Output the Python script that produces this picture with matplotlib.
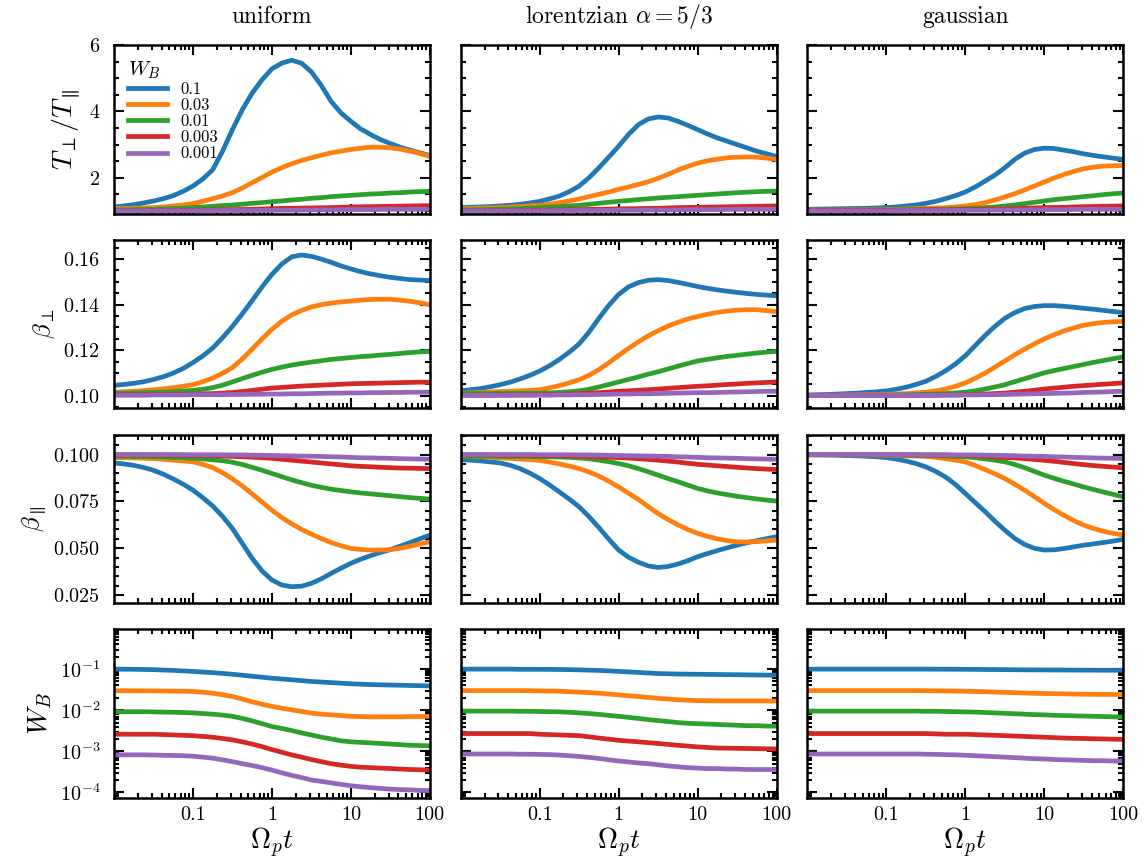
import matplotlib
matplotlib.use("Agg")
import matplotlib.pyplot as plt
from matplotlib.ticker import MultipleLocator, LogLocator, NullFormatter

plt.rcParams['font.family'] = 'serif'
plt.rcParams['font.serif'] = ['cmr10', 'DejaVu Serif']
plt.rcParams['mathtext.fontset'] = 'cm'
plt.rcParams['axes.formatter.use_mathtext'] = True
plt.rcParams['axes.unicode_minus'] = False

# sample times (Omega_p t), read at eighth decades
t = [0.01, 0.0133, 0.0178, 0.0237, 0.0316, 0.0422, 0.0562, 0.075, 0.1, 0.133, 0.178,
     0.237, 0.316, 0.422, 0.562, 0.75, 1, 1.33, 1.78, 2.37, 3.16, 4.22, 5.62, 7.5, 10,
     13.3, 17.8, 23.7, 31.6, 42.2, 56.2, 75, 100]

wb_labels = ['0.1', '0.03', '0.01', '0.003', '0.001']
colors = ['#1f77b4', '#ff7f0e', '#2ca02c', '#d62728', '#9467bd']
titles = ['uniform', r'lorentzian $\alpha=5/3$', 'gaussian']

# T_perp / T_par
tratio_uniform = [
    [1.12, 1.15, 1.19, 1.24, 1.3, 1.37, 1.46, 1.59, 1.75, 1.96, 2.24, 2.8, 3.45, 4.05, 4.55, 4.95, 5.28, 5.45, 5.54, 5.45, 5.19, 4.78, 4.3, 3.95, 3.7, 3.47, 3.3, 3.15, 3.03, 2.92, 2.83, 2.75, 2.67],
    [1.07, 1.075, 1.08, 1.09, 1.1, 1.12, 1.15, 1.18, 1.22, 1.29, 1.37, 1.45, 1.55, 1.69, 1.85, 2.01, 2.17, 2.3, 2.42, 2.52, 2.6, 2.68, 2.75, 2.8, 2.85, 2.89, 2.92, 2.92, 2.9, 2.86, 2.8, 2.73, 2.64],
    [1.03, 1.035, 1.04, 1.045, 1.05, 1.06, 1.07, 1.085, 1.1, 1.12, 1.14, 1.16, 1.18, 1.2, 1.23, 1.25, 1.28, 1.3, 1.33, 1.35, 1.38, 1.4, 1.43, 1.45, 1.47, 1.49, 1.51, 1.52, 1.54, 1.55, 1.57, 1.58, 1.59],
    [1.0, 1.0, 1.0, 1.005, 1.01, 1.01, 1.01, 1.015, 1.02, 1.025, 1.03, 1.035, 1.04, 1.045, 1.05, 1.06, 1.07, 1.075, 1.08, 1.085, 1.09, 1.095, 1.1, 1.11, 1.12, 1.125, 1.13, 1.135, 1.14, 1.145, 1.15, 1.155, 1.16],
    [1.0, 1.0, 1.0, 1.0, 1.0, 1.0, 1.0, 1.0, 1.0, 1.005, 1.01, 1.01, 1.01, 1.01, 1.01, 1.015, 1.02, 1.02, 1.02, 1.025, 1.03, 1.03, 1.03, 1.035, 1.04, 1.04, 1.04, 1.045, 1.05, 1.05, 1.05, 1.05, 1.05],
]
tratio_lorentz = [
    [1.1, 1.11, 1.12, 1.13, 1.15, 1.17, 1.2, 1.24, 1.29, 1.36, 1.45, 1.58, 1.75, 2.0, 2.3, 2.62, 2.95, 3.3, 3.6, 3.77, 3.83, 3.8, 3.7, 3.58, 3.45, 3.32, 3.2, 3.1, 3.0, 2.9, 2.8, 2.72, 2.64],
    [1.07, 1.075, 1.08, 1.09, 1.1, 1.115, 1.13, 1.15, 1.17, 1.2, 1.25, 1.3, 1.36, 1.43, 1.5, 1.57, 1.65, 1.72, 1.8, 1.88, 1.98, 2.1, 2.23, 2.34, 2.44, 2.51, 2.56, 2.6, 2.62, 2.63, 2.62, 2.59, 2.55],
    [1.03, 1.035, 1.04, 1.045, 1.05, 1.06, 1.07, 1.085, 1.1, 1.115, 1.13, 1.15, 1.17, 1.2, 1.23, 1.26, 1.29, 1.315, 1.34, 1.365, 1.39, 1.41, 1.43, 1.45, 1.47, 1.49, 1.51, 1.53, 1.55, 1.565, 1.58, 1.59, 1.6],
    [1.0, 1.0, 1.0, 1.005, 1.01, 1.01, 1.01, 1.015, 1.02, 1.025, 1.03, 1.035, 1.04, 1.045, 1.05, 1.055, 1.06, 1.065, 1.07, 1.075, 1.08, 1.09, 1.1, 1.105, 1.11, 1.115, 1.12, 1.125, 1.13, 1.135, 1.14, 1.145, 1.15],
    [1.0, 1.0, 1.0, 1.0, 1.0, 1.0, 1.0, 1.0, 1.0, 1.005, 1.01, 1.01, 1.01, 1.01, 1.01, 1.015, 1.02, 1.02, 1.02, 1.025, 1.03, 1.03, 1.03, 1.035, 1.04, 1.04, 1.04, 1.045, 1.05, 1.05, 1.05, 1.05, 1.05],
]
tratio_gauss = [
    [1.05, 1.055, 1.06, 1.065, 1.07, 1.075, 1.08, 1.09, 1.1, 1.12, 1.15, 1.18, 1.23, 1.29, 1.37, 1.46, 1.57, 1.72, 1.9, 2.08, 2.3, 2.55, 2.74, 2.85, 2.89, 2.88, 2.83, 2.78, 2.72, 2.67, 2.63, 2.59, 2.55],
    [1.03, 1.03, 1.03, 1.03, 1.03, 1.035, 1.04, 1.04, 1.04, 1.05, 1.06, 1.07, 1.08, 1.09, 1.1, 1.12, 1.15, 1.19, 1.25, 1.33, 1.42, 1.52, 1.63, 1.75, 1.87, 1.99, 2.1, 2.19, 2.27, 2.32, 2.35, 2.36, 2.37],
    [1.03, 1.03, 1.03, 1.03, 1.03, 1.03, 1.03, 1.03, 1.03, 1.035, 1.04, 1.04, 1.04, 1.045, 1.05, 1.06, 1.07, 1.085, 1.1, 1.12, 1.15, 1.18, 1.22, 1.26, 1.3, 1.34, 1.37, 1.4, 1.43, 1.46, 1.49, 1.52, 1.54],
    [1.02, 1.02, 1.02, 1.02, 1.02, 1.02, 1.02, 1.02, 1.02, 1.02, 1.02, 1.025, 1.03, 1.03, 1.03, 1.035, 1.04, 1.045, 1.05, 1.055, 1.06, 1.07, 1.08, 1.09, 1.1, 1.105, 1.11, 1.12, 1.13, 1.135, 1.14, 1.145, 1.15],
    [1.0, 1.0, 1.0, 1.0, 1.0, 1.0, 1.0, 1.0, 1.0, 1.005, 1.01, 1.01, 1.01, 1.01, 1.01, 1.015, 1.02, 1.02, 1.02, 1.025, 1.03, 1.03, 1.03, 1.035, 1.04, 1.04, 1.04, 1.045, 1.05, 1.05, 1.05, 1.05, 1.05],
]

# beta_perp
bperp_uniform = [
    [0.1046, 0.105, 0.1055, 0.1062, 0.1072, 0.1084, 0.11, 0.112, 0.1146, 0.1175, 0.121, 0.1255, 0.1305, 0.136, 0.1418, 0.1478, 0.1533, 0.1578, 0.161, 0.1618, 0.1612, 0.16, 0.1586, 0.157, 0.1557, 0.1545, 0.1535, 0.1527, 0.152, 0.1515, 0.151, 0.1508, 0.1506],
    [0.1016, 0.1018, 0.102, 0.1023, 0.1027, 0.1031, 0.1036, 0.1042, 0.1049, 0.1062, 0.1078, 0.1099, 0.1124, 0.1162, 0.1205, 0.125, 0.1292, 0.1327, 0.1355, 0.1375, 0.139, 0.14, 0.1407, 0.1412, 0.1416, 0.142, 0.1423, 0.1424, 0.1424, 0.142, 0.1415, 0.1408, 0.14],
    [0.1012, 0.1012, 0.1013, 0.1014, 0.1015, 0.1016, 0.1018, 0.1021, 0.1024, 0.1029, 0.1036, 0.1047, 0.1061, 0.1076, 0.109, 0.1104, 0.1116, 0.1126, 0.1135, 0.1142, 0.1148, 0.1154, 0.116, 0.1164, 0.1168, 0.1172, 0.1175, 0.1179, 0.1182, 0.1186, 0.119, 0.1193, 0.1195],
    [0.1005, 0.1005, 0.1005, 0.1005, 0.1006, 0.1006, 0.1007, 0.1007, 0.1008, 0.1009, 0.101, 0.1012, 0.1015, 0.1019, 0.1024, 0.1029, 0.1034, 0.1037, 0.104, 0.1043, 0.1045, 0.1047, 0.1049, 0.1051, 0.1053, 0.1054, 0.1055, 0.1056, 0.1057, 0.1058, 0.1059, 0.106, 0.106],
    [0.1003, 0.1003, 0.1003, 0.1003, 0.1004, 0.1004, 0.1004, 0.1004, 0.1005, 0.1005, 0.1005, 0.1005, 0.1006, 0.1006, 0.1007, 0.1007, 0.1008, 0.1008, 0.1009, 0.1009, 0.101, 0.1011, 0.1012, 0.1012, 0.1013, 0.1013, 0.1014, 0.1014, 0.1015, 0.1015, 0.1016, 0.1016, 0.1016],
]
bperp_lorentz = [
    [0.1022, 0.1027, 0.1032, 0.104, 0.1049, 0.106, 0.1074, 0.109, 0.1109, 0.1132, 0.116, 0.1192, 0.1228, 0.128, 0.134, 0.1397, 0.1445, 0.1478, 0.1497, 0.1507, 0.151, 0.1506, 0.1498, 0.1489, 0.148, 0.1472, 0.1465, 0.1459, 0.1454, 0.1449, 0.1445, 0.1442, 0.1439],
    [0.1012, 0.1013, 0.1015, 0.1017, 0.1019, 0.102, 0.1022, 0.1024, 0.1027, 0.1035, 0.1045, 0.1057, 0.1071, 0.109, 0.1115, 0.1145, 0.1177, 0.1208, 0.1237, 0.1263, 0.1286, 0.1306, 0.1323, 0.1337, 0.1348, 0.1358, 0.1366, 0.1372, 0.1376, 0.1378, 0.1378, 0.1374, 0.1369],
    [0.101, 0.101, 0.101, 0.101, 0.1011, 0.1011, 0.1011, 0.1011, 0.1012, 0.1013, 0.1015, 0.1018, 0.1022, 0.1029, 0.1039, 0.105, 0.1061, 0.1072, 0.1083, 0.1095, 0.1106, 0.1118, 0.113, 0.1142, 0.1153, 0.116, 0.1167, 0.1173, 0.1178, 0.1183, 0.1188, 0.1192, 0.1195],
    [0.1003, 0.1003, 0.1003, 0.1003, 0.1004, 0.1004, 0.1004, 0.1004, 0.1005, 0.1006, 0.1007, 0.1008, 0.101, 0.1012, 0.1014, 0.1017, 0.102, 0.1022, 0.1025, 0.1027, 0.103, 0.1033, 0.1036, 0.1039, 0.1042, 0.1044, 0.1047, 0.105, 0.1052, 0.1055, 0.1057, 0.1059, 0.1061],
    [0.1002, 0.1002, 0.1002, 0.1002, 0.1002, 0.1002, 0.1003, 0.1003, 0.1003, 0.1003, 0.1004, 0.1004, 0.1005, 0.1005, 0.1006, 0.1007, 0.1008, 0.1008, 0.1009, 0.1009, 0.101, 0.1011, 0.1012, 0.1013, 0.1014, 0.1014, 0.1015, 0.1016, 0.1017, 0.1018, 0.1019, 0.102, 0.102],
]
bperp_gauss = [
    [0.1004, 0.1005, 0.1006, 0.1008, 0.101, 0.1012, 0.1015, 0.1018, 0.1022, 0.1029, 0.1038, 0.105, 0.1064, 0.1085, 0.111, 0.114, 0.1176, 0.122, 0.1265, 0.1305, 0.134, 0.1365, 0.1383, 0.1392, 0.1396, 0.1396, 0.1393, 0.1389, 0.1384, 0.138, 0.1375, 0.137, 0.1365],
    [0.1002, 0.1002, 0.1003, 0.1003, 0.1004, 0.1004, 0.1005, 0.1005, 0.1006, 0.1008, 0.101, 0.1013, 0.1016, 0.1022, 0.103, 0.1042, 0.1057, 0.1077, 0.11, 0.1126, 0.1153, 0.118, 0.1205, 0.1228, 0.125, 0.1268, 0.1285, 0.1298, 0.131, 0.1317, 0.1322, 0.1325, 0.1327],
    [0.1002, 0.1002, 0.1002, 0.1002, 0.1002, 0.1002, 0.1003, 0.1003, 0.1003, 0.1004, 0.1005, 0.1006, 0.1007, 0.1008, 0.101, 0.1013, 0.1016, 0.1022, 0.103, 0.1039, 0.1049, 0.1062, 0.1075, 0.1088, 0.1101, 0.1111, 0.112, 0.1129, 0.1138, 0.1147, 0.1155, 0.1163, 0.1171],
    [0.1001, 0.1001, 0.1001, 0.1001, 0.1001, 0.1001, 0.1002, 0.1002, 0.1002, 0.1002, 0.1002, 0.1002, 0.1003, 0.1003, 0.1004, 0.1004, 0.1005, 0.1006, 0.1008, 0.101, 0.1012, 0.1016, 0.102, 0.1025, 0.103, 0.1034, 0.1038, 0.1042, 0.1045, 0.1048, 0.1051, 0.1054, 0.1057],
    [0.1001, 0.1001, 0.1001, 0.1001, 0.1001, 0.1001, 0.1001, 0.1001, 0.1002, 0.1002, 0.1002, 0.1002, 0.1002, 0.1002, 0.1003, 0.1003, 0.1004, 0.1004, 0.1005, 0.1005, 0.1006, 0.1007, 0.1008, 0.1009, 0.101, 0.1011, 0.1012, 0.1013, 0.1015, 0.1016, 0.1017, 0.1019, 0.102],
]

# beta_par
bpar_uniform = [
    [0.0955, 0.095, 0.0942, 0.0931, 0.0916, 0.0895, 0.087, 0.0842, 0.081, 0.077, 0.0725, 0.067, 0.0605, 0.0525, 0.0445, 0.0378, 0.033, 0.0303, 0.0294, 0.0297, 0.0312, 0.0336, 0.0365, 0.0393, 0.0419, 0.0441, 0.046, 0.0477, 0.0492, 0.0511, 0.053, 0.055, 0.057],
    [0.0984, 0.0983, 0.0982, 0.098, 0.0978, 0.0975, 0.097, 0.0966, 0.0961, 0.0948, 0.093, 0.0903, 0.087, 0.0832, 0.079, 0.0746, 0.0703, 0.0664, 0.063, 0.06, 0.0575, 0.0551, 0.053, 0.0513, 0.0499, 0.0493, 0.049, 0.049, 0.0492, 0.0499, 0.051, 0.0522, 0.0534],
    [0.0991, 0.0991, 0.099, 0.099, 0.0989, 0.0987, 0.0985, 0.0983, 0.098, 0.0977, 0.0972, 0.0967, 0.0959, 0.0947, 0.0932, 0.0916, 0.0899, 0.0882, 0.0865, 0.085, 0.0836, 0.0825, 0.0815, 0.0808, 0.0801, 0.0795, 0.079, 0.0785, 0.078, 0.0775, 0.077, 0.0766, 0.0762],
    [0.0998, 0.0998, 0.0998, 0.0998, 0.0997, 0.0997, 0.0996, 0.0996, 0.0995, 0.0994, 0.0993, 0.0992, 0.099, 0.0988, 0.0986, 0.0983, 0.098, 0.0975, 0.097, 0.0965, 0.096, 0.0955, 0.095, 0.0945, 0.094, 0.0937, 0.0935, 0.0932, 0.093, 0.0928, 0.0927, 0.0926, 0.0925],
    [0.1, 0.1, 0.1, 0.1, 0.1, 0.1, 0.1, 0.1, 0.0999, 0.0999, 0.0999, 0.0999, 0.0998, 0.0998, 0.0997, 0.0996, 0.0995, 0.0994, 0.0993, 0.0992, 0.0991, 0.099, 0.0988, 0.0987, 0.0985, 0.0983, 0.0982, 0.0981, 0.098, 0.0978, 0.0977, 0.0976, 0.0975],
]
bpar_lorentz = [
    [0.0973, 0.097, 0.0966, 0.0961, 0.0955, 0.0943, 0.0925, 0.0901, 0.0872, 0.0838, 0.08, 0.0762, 0.0721, 0.0668, 0.061, 0.0548, 0.049, 0.0452, 0.0425, 0.0405, 0.0397, 0.0402, 0.0415, 0.0433, 0.0454, 0.0471, 0.0487, 0.0502, 0.0516, 0.0529, 0.054, 0.0551, 0.0561],
    [0.0991, 0.099, 0.0988, 0.0985, 0.0982, 0.0979, 0.0976, 0.0973, 0.0969, 0.096, 0.095, 0.0938, 0.0925, 0.0907, 0.0885, 0.0858, 0.0827, 0.0794, 0.076, 0.0722, 0.0685, 0.0653, 0.0625, 0.06, 0.0579, 0.0563, 0.055, 0.054, 0.0534, 0.0533, 0.0535, 0.0539, 0.0543],
    [0.0991, 0.0991, 0.0991, 0.0991, 0.099, 0.099, 0.099, 0.099, 0.0989, 0.0988, 0.0987, 0.0985, 0.0982, 0.0977, 0.097, 0.0962, 0.0952, 0.094, 0.0925, 0.0908, 0.089, 0.0872, 0.0855, 0.0837, 0.0819, 0.0806, 0.0795, 0.0786, 0.0777, 0.077, 0.0763, 0.0757, 0.0751],
    [0.0998, 0.0998, 0.0998, 0.0998, 0.0997, 0.0997, 0.0996, 0.0996, 0.0995, 0.0994, 0.0993, 0.0992, 0.099, 0.0989, 0.0987, 0.0986, 0.0984, 0.0981, 0.0978, 0.0974, 0.097, 0.0965, 0.096, 0.0954, 0.0948, 0.0944, 0.094, 0.0936, 0.0932, 0.0928, 0.0925, 0.0922, 0.092],
    [0.1, 0.1, 0.1, 0.1, 0.1, 0.1, 0.1, 0.1, 0.0999, 0.0999, 0.0999, 0.0999, 0.0998, 0.0998, 0.0997, 0.0996, 0.0995, 0.0994, 0.0993, 0.0992, 0.0991, 0.099, 0.0988, 0.0987, 0.0985, 0.0983, 0.0982, 0.0981, 0.098, 0.0978, 0.0977, 0.0976, 0.0975],
]
bpar_gauss = [
    [0.0999, 0.0999, 0.0998, 0.0997, 0.0995, 0.0993, 0.0991, 0.0988, 0.0984, 0.0976, 0.0965, 0.0952, 0.0934, 0.091, 0.088, 0.084, 0.0792, 0.0744, 0.0695, 0.0644, 0.0596, 0.0552, 0.052, 0.0499, 0.049, 0.0491, 0.0498, 0.0507, 0.0516, 0.0523, 0.053, 0.0538, 0.0547],
    [0.0999, 0.0999, 0.0999, 0.0999, 0.0998, 0.0998, 0.0997, 0.0997, 0.0996, 0.0995, 0.0993, 0.0992, 0.099, 0.0985, 0.0978, 0.097, 0.0961, 0.0942, 0.092, 0.0897, 0.0872, 0.0842, 0.081, 0.0775, 0.0739, 0.0706, 0.0675, 0.0647, 0.0623, 0.0605, 0.059, 0.0579, 0.057],
    [0.0999, 0.0999, 0.0999, 0.0999, 0.0999, 0.0999, 0.0998, 0.0998, 0.0998, 0.0998, 0.0997, 0.0996, 0.0995, 0.0994, 0.0992, 0.099, 0.0988, 0.0983, 0.0977, 0.097, 0.0961, 0.0947, 0.093, 0.091, 0.089, 0.0873, 0.0857, 0.0842, 0.0827, 0.0813, 0.08, 0.0787, 0.0774],
    [0.0999, 0.0999, 0.0999, 0.0999, 0.0999, 0.0999, 0.0999, 0.0999, 0.0999, 0.0999, 0.0998, 0.0998, 0.0998, 0.0997, 0.0997, 0.0996, 0.0995, 0.0993, 0.0991, 0.0988, 0.0985, 0.0982, 0.0978, 0.0974, 0.0969, 0.0964, 0.0958, 0.0952, 0.0946, 0.0941, 0.0937, 0.0933, 0.0929],
    [0.1, 0.1, 0.1, 0.1, 0.1, 0.1, 0.1, 0.1, 0.1, 0.1, 0.1, 0.1, 0.0999, 0.0999, 0.0999, 0.0998, 0.0998, 0.0998, 0.0997, 0.0996, 0.0995, 0.0994, 0.0992, 0.0991, 0.099, 0.0988, 0.0987, 0.0985, 0.0984, 0.0982, 0.0981, 0.098, 0.0979],
]

# W_B
wb_uniform = [
    [0.1, 0.0997, 0.099, 0.098, 0.097, 0.095, 0.093, 0.0905, 0.088, 0.085, 0.082, 0.0785, 0.075, 0.071, 0.067, 0.0635, 0.06, 0.0575, 0.055, 0.0525, 0.05, 0.0485, 0.047, 0.0455, 0.044, 0.043, 0.042, 0.0415, 0.041, 0.0405, 0.04, 0.0395, 0.039],
    [0.0297, 0.0297, 0.0297, 0.0296, 0.0295, 0.0294, 0.0292, 0.029, 0.0287, 0.0275, 0.026, 0.0239, 0.0216, 0.0187, 0.016, 0.014, 0.0124, 0.0112, 0.0102, 0.0093, 0.0085, 0.008, 0.0077, 0.0074, 0.0071, 0.007, 0.0069, 0.0069, 0.0069, 0.0069, 0.007, 0.007, 0.0071],
    [0.0092, 0.0092, 0.0092, 0.0092, 0.0091, 0.009, 0.0089, 0.0088, 0.0086, 0.0083, 0.008, 0.0076, 0.0071, 0.0063, 0.0055, 0.0047, 0.004, 0.0036, 0.0032, 0.0028, 0.0025, 0.0022, 0.002, 0.0018, 0.0017, 0.00165, 0.0016, 0.00155, 0.0015, 0.00145, 0.0014, 0.00138, 0.00136],
    [0.0026, 0.0026, 0.0026, 0.0026, 0.0026, 0.00255, 0.0025, 0.00245, 0.0024, 0.0023, 0.0022, 0.00205, 0.0019, 0.0017, 0.0015, 0.0013, 0.0011, 0.00095, 0.00082, 0.00072, 0.00063, 0.00056, 0.0005, 0.00046, 0.00043, 0.00041, 0.0004, 0.00039, 0.00038, 0.00037, 0.00036, 0.000355, 0.00035],
    [0.00082, 0.00082, 0.00082, 0.00082, 0.00081, 0.0008, 0.00079, 0.00078, 0.00076, 0.00072, 0.00068, 0.00062, 0.00056, 0.0005, 0.00045, 0.0004, 0.00035, 0.0003, 0.00026, 0.00023, 0.0002, 0.000185, 0.00017, 0.000157, 0.000145, 0.000137, 0.00013, 0.000125, 0.00012, 0.000117, 0.000115, 0.000112, 0.00011],
]
wb_lorentz = [
    [0.1, 0.1, 0.1, 0.1, 0.1, 0.1, 0.099, 0.099, 0.099, 0.0985, 0.098, 0.097, 0.096, 0.0945, 0.093, 0.0905, 0.088, 0.0855, 0.083, 0.0805, 0.078, 0.077, 0.076, 0.0755, 0.075, 0.0745, 0.074, 0.0735, 0.073, 0.0725, 0.072, 0.0715, 0.071],
    [0.03, 0.03, 0.03, 0.03, 0.03, 0.03, 0.03, 0.0298, 0.0295, 0.0293, 0.029, 0.0283, 0.0275, 0.0268, 0.026, 0.0248, 0.0236, 0.0225, 0.0215, 0.0205, 0.0195, 0.0187, 0.018, 0.0175, 0.0171, 0.017, 0.0169, 0.0168, 0.0168, 0.0168, 0.0168, 0.0168, 0.0168],
    [0.0095, 0.0095, 0.0095, 0.0095, 0.0095, 0.0095, 0.0094, 0.0094, 0.0093, 0.0092, 0.0091, 0.0089, 0.0086, 0.0083, 0.0079, 0.0075, 0.0071, 0.0067, 0.0063, 0.0059, 0.0056, 0.0053, 0.005, 0.0048, 0.0047, 0.0046, 0.0045, 0.0044, 0.0043, 0.0042, 0.0042, 0.0041, 0.0041],
    [0.0027, 0.0027, 0.0027, 0.0027, 0.0027, 0.0027, 0.0027, 0.0027, 0.0026, 0.00255, 0.0025, 0.00245, 0.0024, 0.00225, 0.0021, 0.00197, 0.00185, 0.00177, 0.0017, 0.00162, 0.00155, 0.00147, 0.0014, 0.00134, 0.00128, 0.00124, 0.0012, 0.00119, 0.00118, 0.00117, 0.00116, 0.00115, 0.00114],
    [0.00086, 0.00086, 0.00086, 0.00086, 0.00086, 0.00086, 0.00085, 0.00085, 0.00084, 0.00083, 0.00081, 0.00078, 0.00075, 0.00071, 0.00067, 0.00062, 0.00058, 0.00055, 0.00052, 0.0005, 0.00047, 0.00044, 0.00042, 0.0004, 0.00039, 0.00038, 0.00038, 0.00037, 0.00037, 0.00036, 0.00036, 0.00036, 0.00036],
]
wb_gauss = [
    [0.1, 0.1, 0.1, 0.1, 0.1, 0.1, 0.1, 0.1, 0.1, 0.1, 0.1, 0.1, 0.1, 0.0998, 0.0995, 0.0993, 0.099, 0.0985, 0.098, 0.0975, 0.097, 0.0965, 0.096, 0.0958, 0.0955, 0.0953, 0.095, 0.0948, 0.0945, 0.0943, 0.094, 0.094, 0.094],
    [0.03, 0.03, 0.03, 0.03, 0.03, 0.03, 0.03, 0.03, 0.03, 0.03, 0.03, 0.03, 0.0298, 0.0297, 0.0295, 0.0293, 0.029, 0.0286, 0.0282, 0.0277, 0.0272, 0.0267, 0.0262, 0.0258, 0.0255, 0.0252, 0.025, 0.0247, 0.0245, 0.0243, 0.0242, 0.0241, 0.024],
    [0.0095, 0.0095, 0.0095, 0.0095, 0.0095, 0.0095, 0.0095, 0.0095, 0.0095, 0.0095, 0.0095, 0.0095, 0.0094, 0.0094, 0.0093, 0.0092, 0.0091, 0.009, 0.0088, 0.0086, 0.0084, 0.0082, 0.008, 0.0078, 0.0077, 0.0075, 0.0074, 0.0073, 0.0072, 0.0071, 0.007, 0.0069, 0.0068],
    [0.0027, 0.0027, 0.0027, 0.0027, 0.0027, 0.0027, 0.0027, 0.0027, 0.0027, 0.0027, 0.0027, 0.0027, 0.0027, 0.00265, 0.0026, 0.0026, 0.0026, 0.00255, 0.0025, 0.00245, 0.0024, 0.00235, 0.0023, 0.00225, 0.0022, 0.00215, 0.0021, 0.00207, 0.00205, 0.00202, 0.002, 0.00197, 0.00195],
    [0.00086, 0.00086, 0.00086, 0.00086, 0.00086, 0.00086, 0.00086, 0.00086, 0.00086, 0.00086, 0.00086, 0.00086, 0.00085, 0.00084, 0.00083, 0.00082, 0.0008, 0.00078, 0.00076, 0.00074, 0.00072, 0.0007, 0.00068, 0.00066, 0.00065, 0.00063, 0.00062, 0.00061, 0.0006, 0.00059, 0.00059, 0.00058, 0.00058],
]

rows = [
    [tratio_uniform, tratio_lorentz, tratio_gauss],
    [bperp_uniform, bperp_lorentz, bperp_gauss],
    [bpar_uniform, bpar_lorentz, bpar_gauss],
    [wb_uniform, wb_lorentz, wb_gauss],
]
ylabels = [r'$T_\perp/T_\parallel$', r'$\beta_\perp$', r'$\beta_\parallel$', r'$W_B$']
ylabel_sizes = [20, 18, 18, 20]

fig, axes = plt.subplots(4, 3, figsize=(11.45, 8.64), dpi=100)
fig.subplots_adjust(left=0.0996, right=0.981, top=0.948, bottom=0.0764,
                    hspace=0.155, wspace=0.098)

for r in range(4):
    for c in range(3):
        ax = axes[r, c]
        for k in range(5):
            ax.plot(t, rows[r][c][k], color=colors[k], lw=3.4, label=wb_labels[k],
                    solid_joinstyle='round')
        ax.set_xscale('log')
        ax.set_xlim(0.01, 100)
        ax.set_xticks([0.1, 1, 10, 100])
        ax.xaxis.set_minor_locator(LogLocator(base=10, subs=range(2, 10), numticks=20))
        ax.xaxis.set_minor_formatter(NullFormatter())
        if r == 0:
            ax.set_ylim(0.92, 6)
            ax.yaxis.set_major_locator(MultipleLocator(2))
            ax.yaxis.set_minor_locator(MultipleLocator(0.5))
            ax.set_title(titles[c], fontsize=17, pad=16)
        elif r == 1:
            ax.set_ylim(0.0945, 0.1685)
            ax.yaxis.set_major_locator(MultipleLocator(0.02))
            ax.yaxis.set_minor_locator(MultipleLocator(0.005))
        elif r == 2:
            ax.set_ylim(0.0206, 0.1107)
            ax.yaxis.set_major_locator(MultipleLocator(0.025))
            ax.yaxis.set_minor_locator(MultipleLocator(0.005))
        else:
            ax.set_yscale('log')
            ax.set_ylim(7.3e-5, 0.93)
            ax.yaxis.set_major_locator(LogLocator(base=10, numticks=10))
            ax.yaxis.set_minor_locator(LogLocator(base=10, subs=range(2, 10), numticks=20))
            ax.yaxis.set_minor_formatter(NullFormatter())
        ax.tick_params(which='both', direction='in', top=True, right=True, width=1.5)
        ax.tick_params(which='major', length=7, labelsize=14.5)
        ax.tick_params(axis='x', which='major', pad=6)
        ax.tick_params(axis='y', which='major', pad=10)
        ax.tick_params(which='minor', length=3.5)
        for s in ax.spines.values():
            s.set_linewidth(1.8)
        if r == 3:
            ax.set_xticklabels(['0.1', '1', '10', '100'])
            ax.set_xlabel(r'$\Omega_p t$', fontsize=20, labelpad=1)
        else:
            ax.set_xticklabels([])
        if c == 0:
            ax.set_ylabel(ylabels[r], fontsize=ylabel_sizes[r])
        else:
            ax.set_yticklabels([])

leg = axes[0, 0].legend(title=r'$W_B$', loc='upper left', frameon=False,
                        fontsize=12, title_fontsize=15, handlelength=2.3,
                        labelspacing=0.05, borderaxespad=0.45, alignment='left',
                        handletextpad=0.8)

fig.savefig('out.png', dpi=100)
